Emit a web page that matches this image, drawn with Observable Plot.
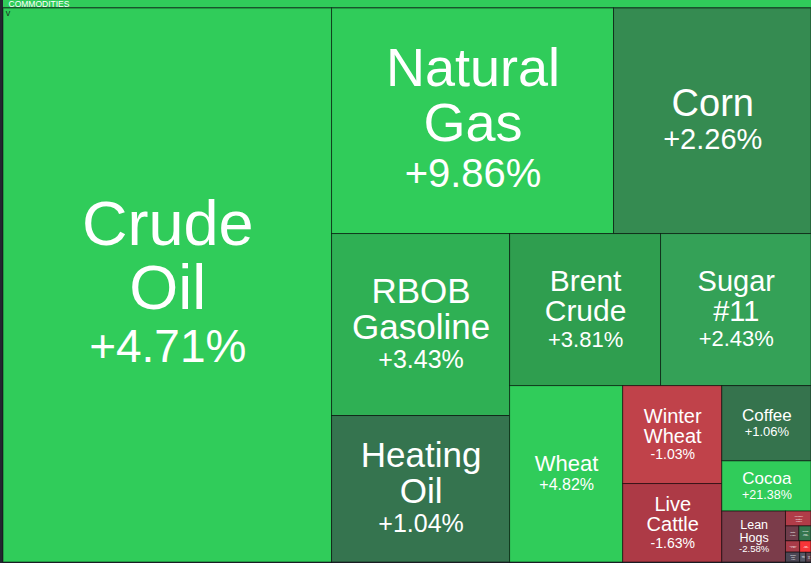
<!DOCTYPE html>
<html><head><meta charset="utf-8">
<script src="https://cdn.jsdelivr.net/npm/d3@7"></script>
<script src="https://cdn.jsdelivr.net/npm/@observablehq/plot@0.6"></script>
<style>
html,body{margin:0;padding:0;background:#22262f;overflow:hidden}
#chart svg{display:block}
</style></head><body><div id="chart"></div>
<script>
// ---- data ----
const groupName = "COMMODITIES";
const names = ["Crude Oil","Natural Gas","Corn","RBOB Gasoline","Heating Oil","Brent Crude","Sugar #11","Wheat","Winter Wheat","Live Cattle","Coffee","Cocoa","Lean Hogs","Feeder Cattle","Oats","Rough Rice","Orange Juice","Lumber","Milk","Cotton","Palm Oil"];
const changes = [4.71,9.86,2.26,3.43,1.04,3.81,2.43,4.82,-1.03,-1.63,1.06,21.38,-2.58,-1.85,-0.62,0.85,-0.12,-1.42,-3.35,0.05,-0.30];
const weights = [181989,63591,44536,32396,26077,22952,22876,19945,9702,7772,6713,4475,3245,380,200,180,140,160,130,60,50];

// ---- styles ----
const cellColors = ["#30cc5a","#30cc5a","#358b51","#2fb054","#35744f","#2f9e4f","#34a157","#30cc5a","#c0424a","#ad3a46","#35734d","#30cc5a","#7b3c4a","#b13c48","#6f3d4b","#35764e","#4b4755","#a83b48","#f63538","#545866","#5a4450"];
const labelSizes = {"Crude Oil":[63,46],"Natural Gas":[54,40],"Corn":[38,29],"RBOB Gasoline":[35,25],"Heating Oil":[35,25],"Brent Crude":[30,22],"Sugar #11":[29,22],"Wheat":[22,16],"Winter Wheat":[20,14],"Live Cattle":[20,14],"Coffee":[17,13],"Cocoa":[17,12.5],"Lean Hogs":[12.5,9.5]};
const LH = 1.02;
const W = 811, H = 563;
const frame = {x0: 3, y0: 8, x1: 811, y1: 562};

const rows = names.map((name, i) => ({name, change: changes[i], weight: weights[i]}));
const root = d3.hierarchy({children: rows}).sum(d => d.weight || 0).sort((a, b) => b.value - a.value);
d3.treemap().tile(d3.treemapSquarify.ratio(1)).size([frame.x1 - frame.x0, frame.y1 - frame.y0]).round(false)(root);
const cells = root.leaves().map(l => ({
  name: l.data.name, change: l.data.change,
  x1: l.x0 + frame.x0, x2: l.x1 + frame.x0, y1: l.y0 + frame.y0, y2: l.y1 + frame.y0
}));

const fmt = v => (v >= 0 ? "+" : "") + v.toFixed(2) + "%";
const nameLabels = [], pctLabels = [];
for (const c of cells) {
  const w = c.x2 - c.x1, h = c.y2 - c.y1;
  const lines = (c.name === "Wheat" || c.name === "Coffee" || c.name === "Cocoa") ? [c.name] : c.name.split(" ");
  const [s, p] = labelSizes[c.name] || [Math.min(w, h) * 0.17, Math.min(w, h) * 0.14];
  const n = lines.length;
  const blockH = n * s * LH + 1.15 * p;
  const cx = (c.x1 + c.x2) / 2, cy = (c.y1 + c.y2) / 2;
  const top = cy - blockH / 2;
  nameLabels.push({x: cx, y: top + n * s * LH - 0.22 * s, text: lines.join("\n"), size: s});
  pctLabels.push({x: cx, y: top + n * s * LH + 1.15 * p - 0.3 * p, text: fmt(c.change), size: p});
}

const header = [{name: groupName, x1: 3, x2: W, y1: 0, y2: 7.5}];

const chart = Plot.plot({
  width: W, height: H,
  margin: 0,
  x: {domain: [0, W], range: [0, W], axis: null},
  y: {domain: [0, H], range: [0, H], axis: null},
  color: {domain: names, range: cellColors},
  style: {background: "transparent", fontFamily: "'Liberation Sans', Arial, sans-serif"},
  marks: [
    Plot.rect(header, {x1: "x1", x2: "x2", y1: "y1", y2: "y2", fill: "#30cc5a"}),
    Plot.rect(header, {x1: "x1", x2: "x2", y1: "y2", y2: d => d.y2 + 0.8, fill: "#1c6a34"}),
    Plot.text(header, {x: 8, y: 6.5, text: "name", fill: "white", fontSize: 8.5, textAnchor: "start", lineAnchor: "bottom"}),
    Plot.rect(cells, {x1: "x1", x2: "x2", y1: "y1", y2: "y2", fill: "name", stroke: "#000", strokeOpacity: 0.5, strokeWidth: 1}),
    Plot.text(header, {x: 7.5, y: 15, text: () => "v", fill: "#15381f", fontSize: 9, textAnchor: "middle", lineAnchor: "bottom"}),
    Plot.text(nameLabels, {x: "x", y: "y", text: "text", fontSize: "size", lineHeight: LH, fill: "white", textAnchor: "middle", lineAnchor: "bottom"}),
    Plot.text(pctLabels, {x: "x", y: "y", text: "text", fontSize: "size", fill: "white", textAnchor: "middle", lineAnchor: "bottom"})
  ]
});
document.getElementById("chart").appendChild(chart);
</script>
</body></html>
